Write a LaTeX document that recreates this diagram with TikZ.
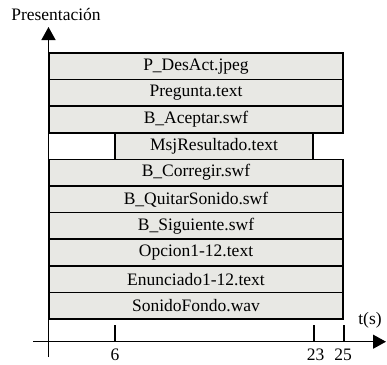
\documentclass[tikz,border=0pt]{standalone}
\usepackage{fontspec}
\setmainfont{Liberation Serif}
\usetikzlibrary{arrows.meta}
\definecolor{barfill}{RGB}{232,232,228}
\tikzset{
  bar/.style={draw=black, line width=1.6pt, fill=barfill, minimum height=26.6pt, inner sep=0pt, anchor=center},
  axis/.style={line width=1.3pt, -{Triangle[width=14pt,length=13pt]}},
  tick/.style={line width=1.3pt},
  lbl/.style={inner sep=0pt}
}
\begin{document}
\begin{tikzpicture}[x=1pt,y=-1pt,font=\fontsize{17.5}{20}\selectfont]
\useasboundingbox (0,0) rectangle (387,364);
% bars
\node[bar, minimum width=294pt] (b1) at (196,66.3) {P\_DesAct.jpeg};
\node[bar, minimum width=294pt] (b2) at (196,92.9) {Pregunta.text};
\node[bar, minimum width=294pt] (b3) at (196,119.5) {B\_Aceptar.swf};
\node[bar, minimum width=198pt] (b4) at (214,146.1) {MsjResultado.text};
\node[bar, minimum width=294pt] (b5) at (196,172.7) {B\_Corregir.swf};
\node[bar, minimum width=294pt] (b6) at (196,199.3) {B\_QuitarSonido.swf};
\node[bar, minimum width=294pt] (b7) at (196,225.9) {B\_Siguiente.swf};
\node[bar, minimum width=294pt] (b8) at (196,252.5) {Opcion1-12.text};
\node[bar, minimum width=294pt] (b9) at (196,279.1) {Enunciado1-12.text};
\node[bar, minimum width=294pt] (b10) at (196,305.7) {SonidoFondo.wav};
% axes
\coordinate (ybot) at (48.5,357);
\coordinate (ytop) at (48.5,27);
\coordinate (xleft) at (33,341.7);
\coordinate (xright) at (386,341.7);
\draw[axis] (ybot) -- (ytop);
\draw[axis] (xleft) -- (xright);
% ticks
\coordinate (t6a) at (115,325); \coordinate (t6b) at (115,341.7);
\coordinate (t23a) at (314,325); \coordinate (t23b) at (314,341.7);
\coordinate (t25a) at (344,325); \coordinate (t25b) at (344,341.7);
\draw[tick] (t6a) -- (t6b);
\draw[tick] (t23a) -- (t23b);
\draw[tick] (t25a) -- (t25b);
% labels
\node[lbl] (l6) at (115,355) {6};
\node[lbl] (l23) at (315.5,355) {23};
\node[lbl] (l25) at (343,355) {25};
\node[lbl] (lt) at (370,320) {t(s)};
\node[lbl] (lp) at (56,15) {Presentación};
\end{tikzpicture}
\end{document}
